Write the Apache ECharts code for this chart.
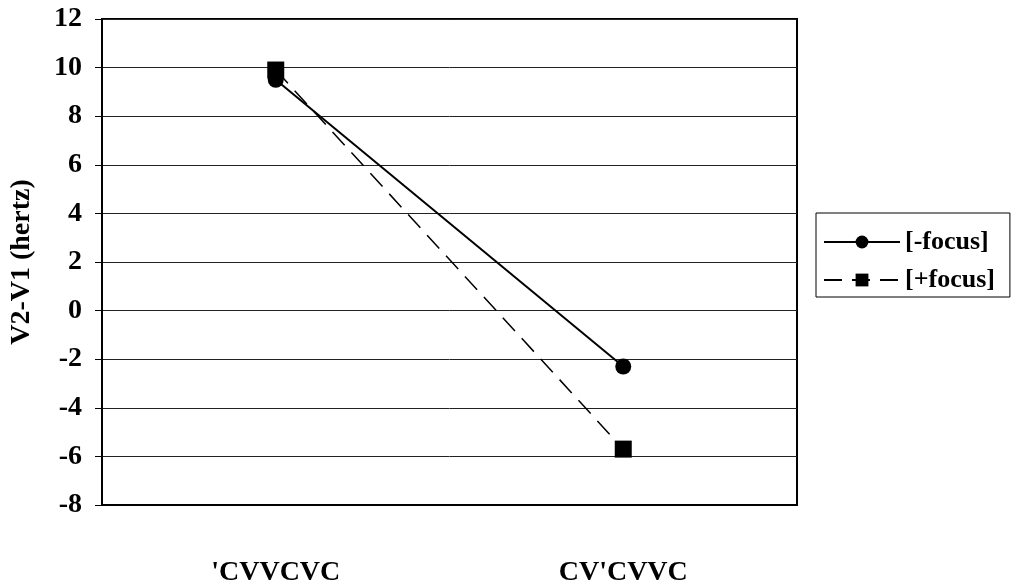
<!DOCTYPE html>
<html>
<head>
<meta charset="utf-8">
<script src="https://cdn.jsdelivr.net/npm/echarts@6/dist/echarts.min.js"></script>
<style>
  html, body { margin: 0; padding: 0; background: #fff; }
  #chart { width: 1013px; height: 587px; }
</style>
</head>
<body>
<div id="chart"></div>
<script>
const categories = ["'CVVCVC", "CV'CVVC"];
const minusFocus = [9.5, -2.3];
const plusFocus = [9.9, -5.7];
const yTicks = { min: -8, max: 12, step: 2 };

const font = '"Liberation Serif", "Times New Roman", serif';
const textStyle = {
    fontFamily: font,
    fontWeight: 'bold',
    fontSize: 28,
    color: '#000'
};

const chart = echarts.init(document.getElementById('chart'));
chart.setOption({
    animation: false,
    backgroundColor: '#fff',
    grid: {
        left: 102,
        top: 19,
        right: 216,
        bottom: 81,
        show: true,
        borderColor: '#000',
        borderWidth: 2
    },
    legend: {
        left: 816,
        top: 213,
        orient: 'vertical',
        itemWidth: 76,
        itemHeight: 16,
        itemGap: 12,
        padding: [16, 15, 4, 7],
        borderColor: '#000',
        borderWidth: 1,
        textStyle: Object.assign({}, textStyle, { fontSize: 26 }),
        data: ['[-focus]', '[+focus]']
    },
    xAxis: {
        type: 'category',
        data: categories,
        boundaryGap: true,
        axisLine: { onZero: false, lineStyle: { color: '#000', width: 2 } },
        axisTick: { show: false },
        axisLabel: Object.assign({ margin: 54 }, textStyle)
    },
    yAxis: {
        type: 'value',
        min: yTicks.min,
        max: yTicks.max,
        interval: yTicks.step,
        name: 'V2-V1 (hertz)',
        nameLocation: 'middle',
        nameGap: 66,
        nameTextStyle: textStyle,
        axisLine: { show: true, lineStyle: { color: '#000', width: 2 } },
        axisTick: { show: true, length: 7, lineStyle: { color: '#000', width: 1 } },
        axisLabel: Object.assign({ margin: 20 }, textStyle),
        splitLine: { lineStyle: { color: '#222', width: 1 } }
    },
    series: [
        {
            name: '[-focus]',
            type: 'line',
            data: minusFocus,
            symbol: 'circle',
            symbolSize: 16,
            itemStyle: { color: '#000' },
            lineStyle: { color: '#000', width: 2 }
        },
        {
            name: '[+focus]',
            type: 'line',
            data: plusFocus,
            symbol: 'rect',
            symbolSize: 17,
            itemStyle: { color: '#000' },
            lineStyle: { color: '#000', width: 1.5, type: [18, 10] }
        }
    ]
});

window.addEventListener('resize', () => {
    chart.resize();
});
</script>
</body>
</html>
